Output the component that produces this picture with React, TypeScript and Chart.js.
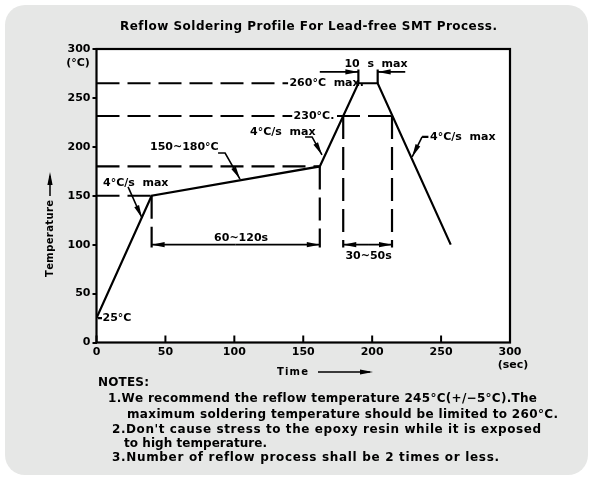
import React, { useEffect, useRef } from "react";
import { Chart, registerables } from "chart.js";

Chart.register(...registerables);

// ---------------- DATA ----------------
const profileTime = [0, 40, 162, 190, 204, 257];
const profileTemp = [25, 150, 180, 265, 265, 100];

const xTickValues = [0, 50, 100, 150, 200, 250, 300];
const yTickValues = [0, 50, 100, 150, 200, 250, 300];

// key levels / times of the profile
const soakStartTime = 40;
const soakEndTime = 162;
const above230Start = 179;
const above230End = 214.4;
const peakStart = 190;
const peakEnd = 204;
const peakTemp = 265;
const reflowTemp = 231.5;
const soakEndTemp = 180;
const soakStartTemp = 150;
const dimTemp = 100;
const dimBottom = 97;

// annotation texts (data coordinates)
const annText = ["10  s  max", "260°C  max.", "230°C.", "4°C/s  max", "150~180°C", "4°C/s  max", "25°C", "60~120s", "30~50s", "4°C/s  max"];
const annX = [202.8, 140, 143, 111.4, 38.8, 4.7, 4.4, 104.9, 197.4, 242];
const annY = [284.8, 265, 231.5, 215.3, 199.8, 163.1, 25, 106.9, 88.4, 210.1];
const annAlign: CanvasTextAlign[] = ["center", "left", "left", "left", "left", "left", "left", "center", "center", "left"];

const noteLines = [
  "NOTES:",
  "1.We recommend the reflow temperature 245°C(+/−5°C).The",
  "maximum soldering temperature should be limited to 260°C.",
  "2.Don't cause stress to the epoxy resin while it is exposed",
  "to high temperature.",
  "3.Number of reflow process shall be 2 times or less.",
];
const titleText = "Reflow Soldering Profile For Lead-free SMT Process.";

// ---------------- LAYOUT (pixels) ----------------
const W = 592;
const H = 481;
const noteLeft = [98, 108, 127, 112, 124, 112];
const noteRight = [149, 537, 558, 541, 267, 499];
const noteY = [383, 399, 415, 430, 444, 458];

type Seg = number[];
const dashedSegs: Seg[] = [
  [0, peakTemp, 139, peakTemp],
  [0, reflowTemp, 142, reflowTemp],
  [174.5, reflowTemp, above230End, reflowTemp],
  [0, soakEndTemp, soakEndTime, soakEndTemp],
  [0, soakStartTemp, soakStartTime, soakStartTemp],
  [soakStartTime, soakStartTemp, soakStartTime, dimBottom],
  [soakEndTime, soakEndTemp, soakEndTime, dimBottom],
  [above230Start, reflowTemp, above230Start, dimBottom],
  [above230End, reflowTemp, above230End, dimBottom],
];
const solidSegs: Seg[] = [
  [peakStart, peakTemp, peakStart, 279],
  [peakEnd, peakTemp, peakEnd, 279],
  [1.1, 25, 4, 25],
  [236.2, 210.1, 240.8, 210.1],
];
// arrows: polyline points, arrowhead at last point
const arrowLines: number[][] = [
  [22.9, 159, 33, 127.3],
  [88.2, 193.7, 93.3, 193.7, 104.1, 167],
  [151.3, 210.1, 156.4, 210.1, 163.6, 191.7],
  [236.2, 210.1, 229, 189.7],
  [soakStartTime + 61, dimTemp, soakStartTime, dimTemp],
  [soakStartTime + 61, dimTemp, soakEndTime, dimTemp],
  [197, dimTemp, above230Start, dimTemp],
  [197, dimTemp, above230End, dimTemp],
  [162, 276.6, peakStart, 276.6],
  [224, 276.6, peakEnd, 276.6],
];

const FONT = "'DejaVu Sans', sans-serif";

function pts(a: number[]) {
  const out: { x: number; y: number }[] = [];
  for (let i = 0; i < a.length; i += 2) out.push({ x: a[i], y: a[i + 1] });
  return out;
}

function spaced(ctx: CanvasRenderingContext2D, text: string, x: number, y: number, width: number) {
  const chars = Array.from(text);
  const ws = chars.map((c) => ctx.measureText(c).width);
  const total = ws.reduce((a, b) => a + b, 0);
  const sp = chars.length > 1 ? Math.max(0, (width - total) / (chars.length - 1)) : 0;
  let cx = x;
  ctx.textAlign = "left";
  chars.forEach((c, i) => {
    ctx.fillText(c, cx, y);
    cx += ws[i] + sp;
  });
}

function arrowHead(ctx: CanvasRenderingContext2D, x1: number, y1: number, x2: number, y2: number) {
  const ang = Math.atan2(y2 - y1, x2 - x1);
  const len = 13;
  const hw = 2.6;
  ctx.save();
  ctx.translate(x2, y2);
  ctx.rotate(ang);
  ctx.beginPath();
  ctx.moveTo(0, 0);
  ctx.lineTo(-len, -hw);
  ctx.lineTo(-len, hw);
  ctx.closePath();
  ctx.fillStyle = "#000";
  ctx.fill();
  ctx.restore();
}

const decorPlugin = {
  id: "decor",
  beforeDraw(chart: any) {
    const ctx: CanvasRenderingContext2D = chart.ctx;
    const ca = chart.chartArea;
    ctx.save();
    ctx.fillStyle = "#ffffff";
    ctx.fillRect(0, 0, W, H);
    ctx.fillStyle = "#e6e7e6";
    ctx.beginPath();
    (ctx as any).roundRect(5, 5, 583, 470, 20);
    ctx.fill();
    ctx.fillStyle = "#ffffff";
    ctx.fillRect(ca.left, ca.top, ca.right - ca.left, ca.bottom - ca.top);
    ctx.restore();
  },
  afterDatasetsDraw(chart: any) {
    const ctx: CanvasRenderingContext2D = chart.ctx;
    const ca = chart.chartArea;
    const xs = chart.scales.x;
    const ys = chart.scales.y;
    const px = (v: number) => xs.getPixelForValue(v);
    const py = (v: number) => ys.getPixelForValue(v);
    ctx.save();
    // frame
    ctx.strokeStyle = "#000";
    ctx.lineWidth = 2.2;
    ctx.strokeRect(ca.left, ca.top, ca.right - ca.left, ca.bottom - ca.top);
    // inner x ticks
    ctx.lineWidth = 2;
    xs.ticks.forEach((t: any) => {
      const x = px(t.value);
      ctx.beginPath();
      ctx.moveTo(x, ca.bottom);
      ctx.lineTo(x, ca.bottom - 7);
      ctx.stroke();
    });
    // arrowheads
    arrowLines.forEach((a) => {
      const n = a.length;
      arrowHead(ctx, px(a[n - 4]), py(a[n - 3]), px(a[n - 2]), py(a[n - 1]));
    });
    // annotation texts
    ctx.fillStyle = "#000";
    ctx.font = `bold 11px ${FONT}`;
    ctx.textBaseline = "middle";
    annText.forEach((t, i) => {
      ctx.textAlign = annAlign[i];
      ctx.fillText(t, px(annX[i]), py(annY[i]));
    });
    // units
    ctx.font = `bold 11px ${FONT}`;
    ctx.textAlign = "center";
    ctx.fillText("(°C)", 78, 63);
    ctx.fillText("(sec)", 513, 365);
    // title
    ctx.font = `bold 12px ${FONT}`;
    spaced(ctx, titleText, 120, 27, 377);
    // axis titles
    ctx.font = `bold 10px ${FONT}`;
    ctx.textAlign = "left";
    spaced(ctx, "Time", 277, 372, 31);
    ctx.lineWidth = 1.5;
    ctx.beginPath();
    ctx.moveTo(318, 372);
    ctx.lineTo(370, 372);
    ctx.stroke();
    arrowHead(ctx, 318, 372, 373, 372);
    ctx.save();
    ctx.translate(50, 277);
    ctx.rotate(-Math.PI / 2);
    spaced(ctx, "Temperature", 0, 0, 77);
    ctx.restore();
    ctx.beginPath();
    ctx.moveTo(50, 196);
    ctx.lineTo(50, 176);
    ctx.stroke();
    arrowHead(ctx, 50, 196, 50, 172);
    // notes
    ctx.font = `bold 12px ${FONT}`;
    noteLines.forEach((l, i) => {
      spaced(ctx, l, noteLeft[i], noteY[i], noteRight[i] - noteLeft[i]);
    });
    ctx.restore();
  },
};

const lineDs = (data: { x: number; y: number }[], dash: number[] = []) => ({
  data,
  showLine: true,
  borderColor: "#000",
  borderWidth: 2.2,
  borderDash: dash,
  pointRadius: 0,
  fill: false,
  tension: 0,
});

export default function App() {
  const ref = useRef<HTMLCanvasElement>(null);
  useEffect(() => {
    document.body.style.margin = "0";
    const canvas = ref.current!;
    const datasets: any[] = [];
    datasets.push(lineDs(profileTime.map((t, i) => ({ x: t, y: profileTemp[i] }))));
    dashedSegs.forEach((s) => datasets.push(lineDs(pts(s), [23, 8])));
    solidSegs.forEach((s) => datasets.push(lineDs(pts(s))));
    arrowLines.forEach((s) => {
      const d = lineDs(pts(s));
      d.borderWidth = 1.6;
      datasets.push(d);
    });
    const chart = new Chart(canvas, {
      type: "scatter",
      data: { datasets },
      options: {
        animation: false,
        responsive: false,
        maintainAspectRatio: false,
        events: [],
        layout: { padding: { left: 0, top: 49, right: 82, bottom: 108.5 } },
        plugins: { legend: { display: false }, tooltip: { enabled: false }, title: { display: false } },
        scales: {
          x: {
            type: "linear",
            min: 0,
            max: 300,
            afterBuildTicks: (s: any) => {
              s.ticks = xTickValues.map((v) => ({ value: v }));
            },
            afterFit: (s: any) => {
              s.height = 30;
              s.paddingLeft = 0;
              s.paddingRight = 0;
              s.paddingTop = 0;
              s.paddingBottom = 0;
            },
            ticks: { color: "#000", font: { family: FONT, size: 11, weight: "bold" }, padding: 3, maxRotation: 0, autoSkip: false },
            grid: { display: false, drawTicks: false },
            border: { display: false },
          },
          y: {
            type: "linear",
            min: 0,
            max: 300,
            afterBuildTicks: (s: any) => {
              s.ticks = yTickValues.map((v) => ({ value: v }));
            },
            afterFit: (s: any) => {
              s.width = 96.5;
              s.paddingLeft = 0;
              s.paddingRight = 0;
              s.paddingTop = 0;
              s.paddingBottom = 0;
            },
            ticks: { color: "#000", font: { family: FONT, size: 11, weight: "bold" }, padding: 2, autoSkip: false },
            grid: { display: true, drawOnChartArea: false, drawTicks: true, tickLength: 4, color: "#000", lineWidth: 2 },
            border: { display: false },
          },
        },
      },
      plugins: [decorPlugin],
    } as any);
    return () => chart.destroy();
  }, []);
  return (
    <div style={{ position: "absolute", left: 0, top: 0, width: W, height: H }}>
      <canvas ref={ref} width={W} height={H} style={{ display: "block", width: W, height: H }} />
    </div>
  );
}
